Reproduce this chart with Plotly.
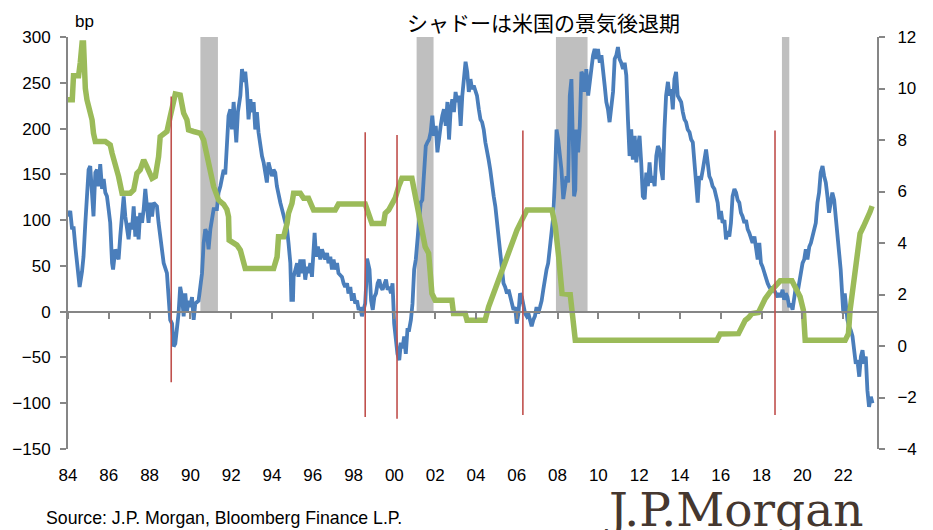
import plotly.graph_objects as go

# ---------------- data ----------------
blue_year = [1984.00,1984.11,1984.20,1984.27,1984.36,1984.44,1984.57,1984.69,1984.76,1984.85,1984.93,1985.01,1985.09,1985.18,1985.25,1985.34,1985.42,1985.50,1985.58,1985.67,1985.75,1985.83,1985.91,1985.99,1986.07,1986.16,1986.21,1986.32,1986.48,1986.56,1986.73,1986.81,1986.89,1986.97,1987.05,1987.14,1987.22,1987.30,1987.38,1987.46,1987.54,1987.63,1987.71,1987.79,1987.87,1987.95,1988.03,1988.12,1988.20,1988.36,1988.44,1988.52,1988.61,1988.69,1988.85,1988.93,1989.01,1989.10,1989.18,1989.26,1989.34,1989.42,1989.50,1989.59,1989.67,1989.75,1989.83,1989.91,1989.99,1990.08,1990.16,1990.24,1990.40,1990.49,1990.57,1990.65,1990.73,1990.81,1990.89,1990.98,1991.06,1991.14,1991.30,1991.38,1991.47,1991.55,1991.63,1991.71,1991.79,1991.87,1991.96,1992.04,1992.12,1992.20,1992.25,1992.33,1992.45,1992.53,1992.61,1992.69,1992.77,1992.85,1992.94,1993.02,1993.10,1993.18,1993.26,1993.34,1993.43,1993.51,1993.59,1993.67,1993.75,1993.83,1993.92,1994.00,1994.08,1994.16,1994.24,1994.32,1994.41,1994.49,1994.57,1994.65,1994.74,1994.81,1994.90,1994.95,1995.03,1995.06,1995.14,1995.23,1995.30,1995.39,1995.47,1995.55,1995.63,1995.72,1995.79,1995.88,1995.96,1996.04,1996.09,1996.16,1996.25,1996.37,1996.45,1996.61,1996.70,1996.77,1996.86,1996.94,1997.02,1997.10,1997.19,1997.26,1997.43,1997.51,1997.59,1997.68,1997.75,1997.84,1997.92,1998.00,1998.08,1998.17,1998.25,1998.33,1998.41,1998.49,1998.57,1998.62,1998.66,1998.78,1998.86,1998.94,1999.02,1999.10,1999.18,1999.26,1999.34,1999.42,1999.51,1999.59,1999.67,1999.75,1999.83,1999.91,1999.99,2000.07,2000.15,2000.24,2000.32,2000.40,2000.48,2000.56,2000.64,2000.72,2000.81,2000.89,2000.97,2001.05,2001.13,2001.21,2001.29,2001.37,2001.45,2001.54,2001.62,2001.70,2001.78,2001.86,2001.94,2002.03,2002.11,2002.19,2002.27,2002.35,2002.43,2002.52,2002.60,2002.68,2002.76,2002.84,2002.92,2003.00,2003.08,2003.16,2003.25,2003.33,2003.41,2003.49,2003.57,2003.65,2003.73,2003.81,2003.89,2003.97,2004.05,2004.14,2004.22,2004.30,2004.38,2004.46,2004.54,2004.62,2004.70,2004.79,2004.87,2004.95,2005.03,2005.11,2005.19,2005.27,2005.35,2005.43,2005.52,2005.60,2005.68,2005.76,2005.84,2005.92,2006.00,2006.08,2006.16,2006.25,2006.33,2006.41,2006.49,2006.57,2006.65,2006.73,2006.81,2006.89,2006.97,2007.05,2007.14,2007.22,2007.30,2007.38,2007.46,2007.54,2007.63,2007.71,2007.79,2007.87,2007.95,2008.03,2008.11,2008.19,2008.28,2008.36,2008.44,2008.52,2008.60,2008.68,2008.76,2008.81,2008.87,2008.92,2009.01,2009.09,2009.17,2009.25,2009.33,2009.41,2009.50,2009.58,2009.66,2009.74,2009.82,2009.90,2009.98,2010.07,2010.15,2010.23,2010.31,2010.39,2010.47,2010.55,2010.64,2010.72,2010.80,2010.88,2010.96,2011.04,2011.12,2011.21,2011.29,2011.37,2011.45,2011.53,2011.61,2011.69,2011.78,2011.86,2011.94,2012.02,2012.10,2012.18,2012.27,2012.35,2012.43,2012.51,2012.59,2012.67,2012.76,2012.84,2012.92,2013.00,2013.08,2013.16,2013.24,2013.32,2013.41,2013.49,2013.57,2013.65,2013.73,2013.81,2013.89,2013.98,2014.06,2014.14,2014.22,2014.30,2014.38,2014.47,2014.55,2014.63,2014.71,2014.79,2014.87,2014.95,2015.03,2015.12,2015.20,2015.28,2015.36,2015.44,2015.52,2015.60,2015.69,2015.77,2015.85,2015.93,2016.01,2016.09,2016.18,2016.26,2016.34,2016.42,2016.50,2016.58,2016.67,2016.75,2016.83,2016.91,2016.99,2017.07,2017.16,2017.24,2017.32,2017.40,2017.48,2017.56,2017.65,2017.73,2017.81,2017.89,2017.97,2018.05,2018.13,2018.21,2018.30,2018.38,2018.46,2018.54,2018.62,2018.71,2018.79,2018.87,2018.95,2019.03,2019.11,2019.19,2019.27,2019.36,2019.44,2019.52,2019.60,2019.68,2019.76,2019.85,2019.93,2020.01,2020.09,2020.17,2020.25,2020.34,2020.42,2020.50,2020.58,2020.66,2020.74,2020.82,2020.90,2020.99,2021.07,2021.15,2021.23,2021.31,2021.39,2021.47,2021.56,2021.64,2021.72,2021.80,2021.88,2021.96,2022.01,2022.08,2022.13,2022.21,2022.29,2022.37,2022.46,2022.54,2022.62,2022.70,2022.79,2022.87,2022.95,2023.03,2023.11,2023.19,2023.27,2023.36,2023.44]
blue_bp = [104,110,90,93,71,53,27,44,60,97,126,155,159,123,104,152,155,137,161,134,145,130,126,112,97,53,46,68,57,82,126,104,90,79,97,90,115,82,104,79,108,97,112,134,115,97,119,104,119,115,97,82,68,53,42,16,-9,-13,-38,-35,-20,-2,27,16,-5,20,0,12,5,16,-9,9,12,27,42,75,90,86,68,90,104,112,112,130,137,145,155,150,185,214,221,199,229,207,185,218,236,265,251,262,243,210,232,218,229,199,218,196,181,170,163,152,141,163,155,148,155,152,137,126,119,112,104,100,90,75,53,13,13,38,46,53,38,57,42,57,35,49,42,53,38,75,86,60,71,57,68,57,64,53,60,46,57,46,53,42,38,31,27,31,20,27,12,20,9,12,2,5,-5,2,9,30,58,46,12,2,16,20,31,35,27,24,31,35,24,27,20,31,-13,-27,-46,-53,-34,-40,-27,-46,-20,-20,-9,9,46,57,79,104,119,122,152,181,185,188,196,214,192,203,174,192,203,214,221,203,229,188,221,232,218,240,229,236,203,236,262,273,262,240,254,243,247,240,236,221,210,207,199,185,177,166,155,137,126,115,97,79,60,42,31,27,20,24,16,9,2,5,-13,-2,20,16,5,-2,-5,-2,-9,-16,-9,-5,5,-2,5,12,24,38,46,53,75,90,104,145,199,188,170,155,123,137,148,141,236,254,185,126,133,199,174,203,262,258,240,265,236,251,269,280,287,276,287,272,280,258,247,229,221,207,225,240,276,280,289,276,272,265,272,258,210,170,199,166,192,163,181,192,163,126,123,152,137,163,141,148,137,170,181,177,155,144,199,236,251,236,243,221,254,262,236,232,229,218,210,207,199,196,188,185,163,141,119,148,144,155,170,177,163,148,144,137,134,126,119,101,110,97,100,79,88,82,97,126,134,130,122,119,108,104,97,100,90,86,79,75,82,68,57,75,53,49,42,38,31,27,24,27,24,20,16,20,16,24,13,20,16,5,9,2,16,27,20,31,38,53,57,68,57,71,75,82,90,97,119,130,152,159,148,141,126,108,119,130,122,104,90,71,46,16,-2,20,9,-9,-16,-20,-27,-42,-57,-53,-71,-49,-42,-57,-49,-86,-104,-93,-100]

green_year = [1984.00,1984.21,1984.27,1984.52,1984.60,1984.69,1984.76,1984.80,1984.85,1984.93,1985.09,1985.18,1985.25,1985.34,1985.83,1986.07,1986.16,1986.32,1986.48,1986.65,1987.05,1987.22,1987.38,1987.54,1987.71,1987.87,1988.12,1988.28,1988.44,1988.52,1988.85,1989.01,1989.18,1989.26,1989.50,1989.67,1989.83,1989.91,1990.16,1990.49,1990.65,1990.89,1991.14,1991.38,1991.63,1991.79,1991.87,1991.90,1992.28,1992.45,1992.61,1992.69,1994.08,1994.25,1994.32,1994.57,1994.74,1994.81,1994.98,1995.06,1995.39,1995.55,1995.79,1996.04,1997.10,1997.26,1998.57,1998.74,1998.90,1999.47,1999.55,1999.72,1999.88,2000.04,2000.21,2000.37,2000.86,2001.02,2001.19,2001.35,2001.51,2001.68,2001.76,2001.84,2002.00,2002.82,2002.90,2003.47,2003.56,2004.45,2004.62,2004.86,2005.03,2005.27,2005.52,2005.76,2006.01,2006.25,2006.50,2007.73,2007.89,2008.05,2008.22,2008.62,2008.79,2008.87,2015.81,2015.97,2016.87,2017.04,2017.20,2017.36,2017.53,2017.85,2018.02,2018.18,2018.42,2018.67,2018.91,2019.49,2019.65,2019.89,2020.05,2020.14,2022.10,2022.26,2022.34,2022.50,2022.67,2022.83,2022.99,2023.17,2023.32,2023.42]
green_rate = [9.56,9.56,10.5,10.5,11.0,11.77,11.77,10.47,10.0,9.56,9.04,8.78,8.26,7.94,7.94,7.81,7.49,7.1,6.58,5.93,5.93,6.06,6.71,6.84,7.23,6.96,6.51,6.58,7.35,8.13,8.33,8.91,9.69,9.79,9.75,9.04,8.78,8.39,8.33,8.26,8.0,7.1,6.19,5.67,5.5,5.3,5.02,4.11,3.92,3.72,3.2,3.01,3.01,3.46,4.24,4.24,4.76,5.15,5.54,5.93,5.93,5.74,5.74,5.28,5.28,5.51,5.51,5.15,4.76,4.76,5.15,5.28,5.48,5.74,6.19,6.51,6.51,5.8,5.28,4.5,3.85,3.6,2.95,2.04,1.78,1.78,1.26,1.26,1.0,1.0,1.52,2.04,2.43,2.95,3.46,3.98,4.5,4.89,5.28,5.28,4.63,3.5,2.04,2.0,1.0,0.22,0.22,0.47,0.48,0.8,1.0,1.1,1.26,1.3,1.65,1.84,2.1,2.3,2.53,2.53,2.3,1.91,1.39,0.22,0.22,0.48,1.39,2.43,3.72,4.37,4.63,4.89,5.21,5.43]

recession_start = [1990.49, 2001.09, 2007.92, 2019.00]
recession_end = [1991.35, 2001.92, 2009.47, 2019.36]

marker_year = [1989.06, 1998.57, 2000.13, 2006.30, 2018.66]
marker_top = [235, 196, 193, 198, 198]
marker_bottom = [-77, -115, -117, -113, -113]

tick_years = list(range(1984, 2023, 2))
tick_text = ["84", "86", "88", "90", "92", "94", "96", "98", "00", "02", "04",
             "06", "08", "10", "12", "14", "16", "18", "20", "22"]

left_range = [-150, 300]
right_range = [-4, 12]
x_range = [1984.0, 2023.66]

title_text = "シャドーは米国の景気後退期"
unit_text = "bp"
source_text = "Source: J.P. Morgan, Bloomberg Finance L.P."
logo_text = "J.P.Morgan"

# ---------------- figure ----------------
AX = "#868686"
BLUE = "#4A7EBB"
GREEN = "#9BBB59"
RED = "#C0504D"
SHADE = "#BFBFBF"
FONT = "Liberation Sans, Arial, sans-serif"

fig = go.Figure()

fig.add_trace(go.Scatter(x=blue_year, y=blue_bp, mode="lines",
                         line=dict(color=BLUE, width=3.8), xaxis="x", yaxis="y",
                         showlegend=False, hoverinfo="skip"))
fig.add_trace(go.Scatter(x=green_year, y=green_rate, mode="lines",
                         line=dict(color=GREEN, width=5.5), xaxis="x", yaxis="y2",
                         showlegend=False, hoverinfo="skip"))
# helper trace so the zero-crossing axis is rendered
fig.add_trace(go.Scatter(x=[x_range[0]], y=[0], mode="markers", marker=dict(opacity=0),
                         xaxis="x2", yaxis="y", showlegend=False, hoverinfo="skip"))

shapes = []
zero_frac = (0 - left_range[0]) / (left_range[1] - left_range[0])
for s, e in zip(recession_start, recession_end):
    shapes.append(dict(type="rect", xref="x", yref="y", x0=s, x1=e, y0=0, y1=left_range[1],
                       fillcolor=SHADE, line=dict(width=0), layer="below"))
for yr, t, b in zip(marker_year, marker_top, marker_bottom):
    shapes.append(dict(type="line", xref="x", yref="y", x0=yr, x1=yr, y0=b, y1=t,
                       line=dict(color=RED, width=1.6), layer="above"))

fig.update_layout(
    width=933, height=530,
    margin=dict(l=68, r=56, t=37, b=81, pad=0),
    paper_bgcolor="white", plot_bgcolor="white",
    font=dict(family=FONT, size=17, color="#000000"),
    shapes=shapes,
    xaxis=dict(range=x_range, tickmode="array", tickvals=tick_years, ticktext=tick_text,
               showline=False, showgrid=False, zeroline=False, ticks="",
               ticklabelstandoff=14, tickfont=dict(size=17, family=FONT)),
    xaxis2=dict(range=x_range, overlaying="x", anchor="free", position=zero_frac, side="bottom",
                tickmode="array", tickvals=tick_years, showticklabels=False,
                showline=True, linecolor=AX, linewidth=2, ticks="outside", ticklen=6,
                tickwidth=2, tickcolor=AX, showgrid=False, zeroline=False),
    yaxis=dict(range=left_range, dtick=50, showline=True, linecolor=AX, linewidth=2,
               ticks="outside", ticklen=6, tickwidth=2, tickcolor=AX, showgrid=False,
               zeroline=False, ticklabelstandoff=6, tickfont=dict(size=17, family=FONT)),
    yaxis2=dict(range=right_range, dtick=2, overlaying="y", side="right", showline=True,
                linecolor=AX, linewidth=2, ticks="outside", ticklen=6, tickwidth=2,
                tickcolor=AX, showgrid=False, zeroline=False, ticklabelstandoff=9,
                tickfont=dict(size=17, family=FONT)),
    annotations=[
        dict(text=title_text, x=(543 - 68) / 809, y=(449 - 22) / 412, xref="paper", yref="paper",
             xanchor="center", yanchor="middle", showarrow=False,
             font=dict(family="Noto Sans CJK JP", size=21, color="#000000")),
        dict(text=unit_text, x=(73 - 68) / 809, y=(449 - 22) / 412, xref="paper", yref="paper",
             xanchor="left", yanchor="middle", showarrow=False, font=dict(size=17)),
        dict(text=source_text, x=(44 - 68) / 809, y=(449 - 518) / 412, xref="paper", yref="paper",
             xanchor="left", yanchor="middle", showarrow=False, font=dict(size=17.7)),
        dict(text=logo_text, x=(603 - 68) / 809, y=(449 - 509) / 412, xref="paper", yref="paper",
             xanchor="left", yanchor="middle", showarrow=False,
             font=dict(family="DejaVu Serif, Liberation Serif, serif", size=47, color="#45372F")),
    ],
)

fig.write_html("out.html")
